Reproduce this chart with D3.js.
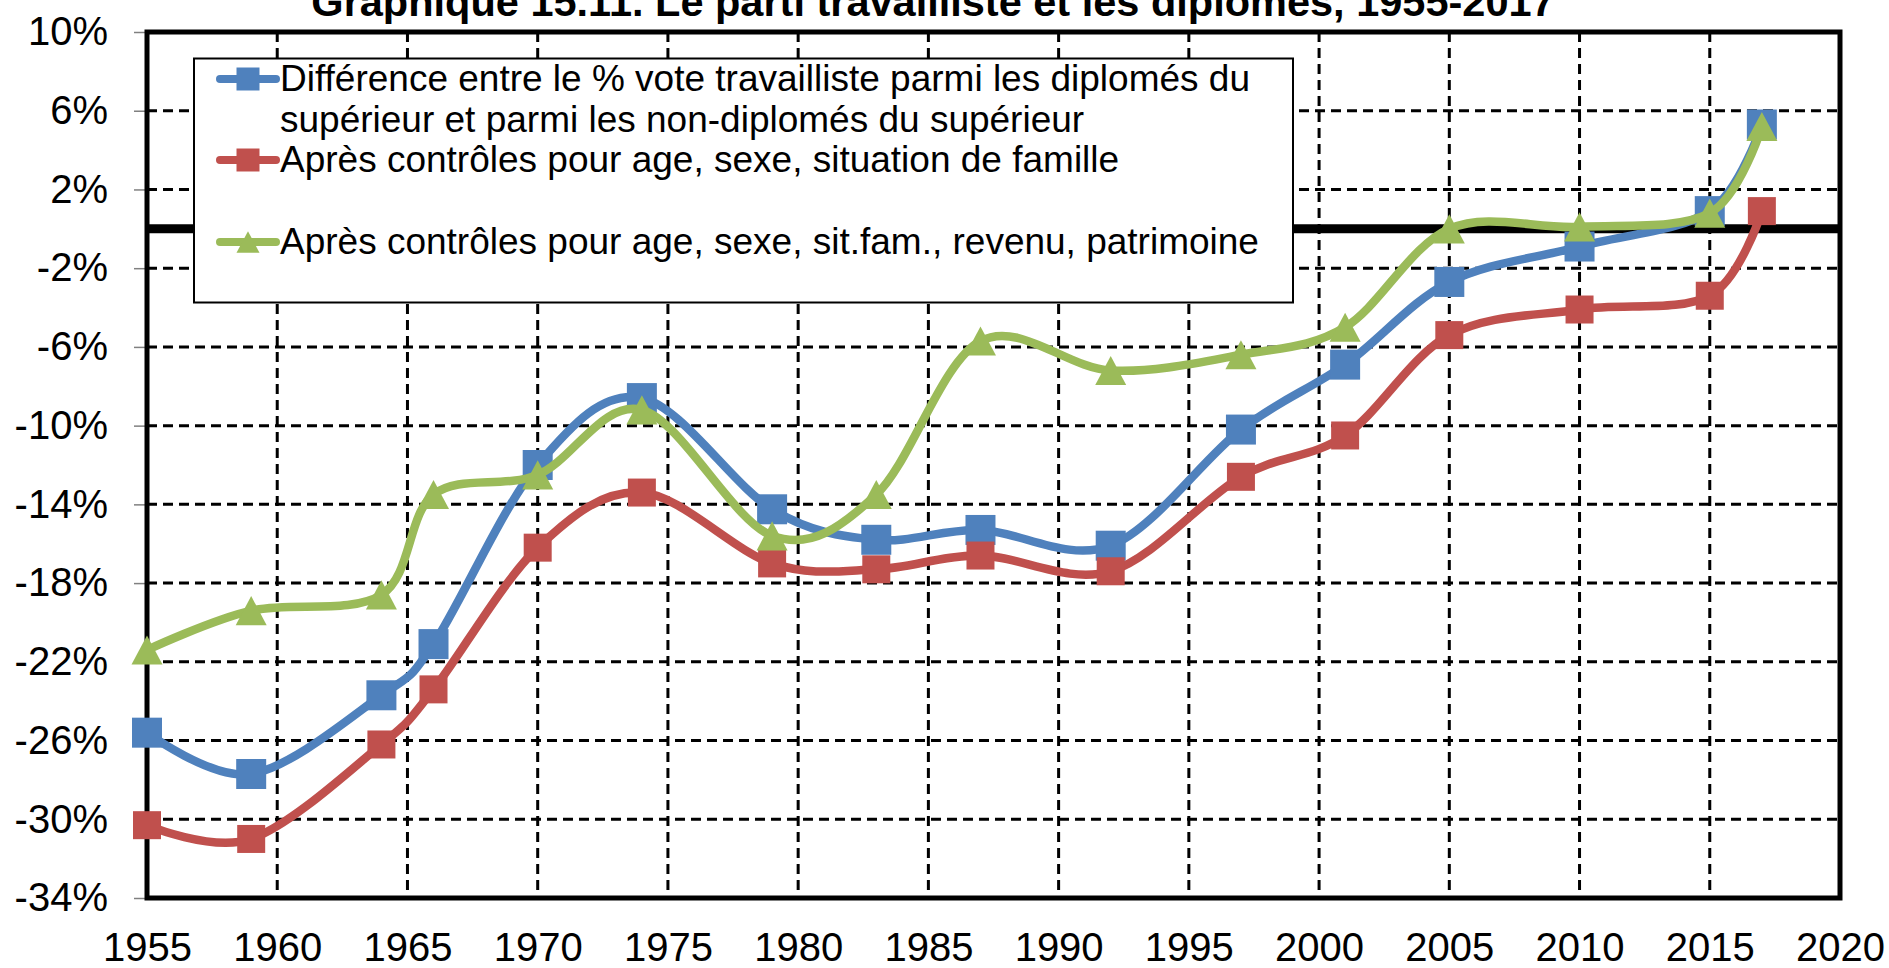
<!DOCTYPE html>
<html>
<head>
<meta charset="utf-8">
<script src="https://cdn.jsdelivr.net/npm/d3@7"></script>
<style>
  html, body { margin: 0; padding: 0; background: #fff; }
  svg { display: block; font-family: "Liberation Sans", Arial, sans-serif; }
</style>
</head>
<body>
<svg id="chart" width="1889" height="968"></svg>
<script>
// ---------------- DATA ----------------
const titleText = "Graphique 15.11. Le parti travailliste et les diplômés, 1955-2017";
const years = [1955, 1959, 1964, 1966, 1970, 1974, 1979, 1983, 1987, 1992, 1997, 2001, 2005, 2010, 2015, 2017];
const diffValues    = [-25.6, -27.7, -23.7, -21.1, -12.0, -8.6, -14.25, -15.8, -15.3, -16.1, -10.2, -6.9, -2.7, -0.9, 0.9, 5.3];
const ctrl1Values   = [-30.3, -31.0, -26.2, -23.4, -16.2, -13.4, -17.0, -17.3, -16.6, -17.4, -12.6, -10.5, -5.4, -4.1, -3.4, 0.9];
const ctrl2Values   = [-21.4, -19.4, -18.6, -13.5, -12.5, -9.2, -15.6, -13.5, -5.7, -7.2, -6.4, -5.0, 0.0, 0.1, 0.8, 5.2];
const seriesLabels = [
  ["Différence entre le % vote travailliste parmi les diplomés du", "supérieur et parmi les non-diplomés du supérieur"],
  ["Après contrôles pour age, sexe, situation de famille"],
  ["Après contrôles pour age, sexe, sit.fam., revenu, patrimoine"]
];
const xTickLabels = [1955, 1960, 1965, 1970, 1975, 1980, 1985, 1990, 1995, 2000, 2005, 2010, 2015, 2020];
const yTickLabels = [10, 6, 2, -2, -6, -10, -14, -18, -22, -26, -30, -34];

// ---------------- STYLES ----------------
const colors = ["#4F81BD", "#C0504D", "#9BBB59"];
const markerKinds = ["square", "square", "triangle"];
const markerSizes = [30, 28, 31];

const svg = d3.select("#chart");
const x = d3.scaleLinear().domain([1955, 2020]).range([147, 1840]);
const y = d3.scaleLinear().domain([-34, 10]).range([898, 32]);

// custom symbol types
const squareType = { draw(ctx, size) { const s = Math.sqrt(size) / 2; ctx.rect(-s, -s, 2 * s, 2 * s); } };
const triType = { draw(ctx, size) { const w = Math.sqrt(size); const h = w * 0.94; ctx.moveTo(0, -h / 2); ctx.lineTo(w / 2, h / 2); ctx.lineTo(-w / 2, h / 2); ctx.closePath(); } };
function symPath(kind, side) {
  return d3.symbol(kind === "triangle" ? triType : squareType, side * side)();
}

// Title (partly cut off at top like the reference)
svg.append("text")
  .attr("x", 933).attr("y", 16)
  .attr("text-anchor", "middle")
  .attr("font-size", 41.5).attr("font-weight", "bold")
  .text(titleText);

// Gridlines
const grid = svg.append("g");
grid.selectAll("line.v").data(xTickLabels.slice(1, -1)).join("line")
  .attr("x1", d => x(d)).attr("x2", d => x(d))
  .attr("y1", y(10)).attr("y2", y(-34))
  .attr("stroke", "#000").attr("stroke-width", 3).attr("stroke-dasharray", "10,6");
grid.selectAll("line.h").data(yTickLabels.slice(1, -1)).join("line")
  .attr("x1", x(1955)).attr("x2", x(2020))
  .attr("y1", d => y(d)).attr("y2", d => y(d))
  .attr("stroke", "#000").attr("stroke-width", 3).attr("stroke-dasharray", "10,6");

// Y axis
const yAxis = svg.append("g").attr("transform", `translate(${x(1955)},0)`)
  .call(d3.axisLeft(y).tickValues(yTickLabels).tickSize(13).tickPadding(26).tickFormat(d => d + "%"));
yAxis.select(".domain").remove();
yAxis.selectAll(".tick line").attr("stroke", "#808080").attr("stroke-width", 1.5);
yAxis.selectAll(".tick text").attr("font-size", 40).attr("fill", "#000")
  .attr("font-family", "'Liberation Sans', Arial, sans-serif");

// X axis
const xAxis = svg.append("g").attr("transform", `translate(0,${y(-34)})`)
  .call(d3.axisBottom(x).tickValues(xTickLabels).tickSize(0).tickPadding(35).tickFormat(d3.format("d")));
xAxis.select(".domain").remove();
xAxis.selectAll(".tick text").attr("font-size", 40).attr("fill", "#000")
  .attr("font-family", "'Liberation Sans', Arial, sans-serif");

// Plot border
svg.append("rect")
  .attr("x", x(1955)).attr("y", y(10))
  .attr("width", x(2020) - x(1955)).attr("height", y(-34) - y(10))
  .attr("fill", "none").attr("stroke", "#000").attr("stroke-width", 5);

// Zero line
svg.append("line")
  .attr("x1", x(1955)).attr("x2", x(2020))
  .attr("y1", y(0)).attr("y2", y(0))
  .attr("stroke", "#000").attr("stroke-width", 9);

// Series
const allSeries = [diffValues, ctrl1Values, ctrl2Values];
const line = d3.line().x(d => x(d.year)).y(d => y(d.v)).curve(d3.curveCardinal.tension(0));
allSeries.forEach((vals, i) => {
  const pts = years.map((yr, k) => ({ year: yr, v: vals[k] }));
  const g = svg.append("g");
  g.append("path").datum(pts).attr("d", line)
    .attr("fill", "none").attr("stroke", colors[i]).attr("stroke-width", 8.5)
    .attr("stroke-linejoin", "round").attr("stroke-linecap", "round");
  g.selectAll("path.m").data(pts).join("path")
    .attr("class", "m")
    .attr("d", symPath(markerKinds[i], markerSizes[i]))
    .attr("transform", d => `translate(${x(d.year)},${y(d.v)})`)
    .attr("fill", colors[i]);
});

// Legend
const lg = svg.append("g");
lg.append("rect").attr("x", 194).attr("y", 58.5).attr("width", 1099).attr("height", 244)
  .attr("fill", "#fff").attr("stroke", "#000").attr("stroke-width", 2);
const legendRowY = [79, 160, 242];
seriesLabels.forEach((lines, i) => {
  const cy = legendRowY[i];
  lg.append("line").attr("x1", 220).attr("x2", 276).attr("y1", cy).attr("y2", cy)
    .attr("stroke", colors[i]).attr("stroke-width", 8).attr("stroke-linecap", "round");
  lg.append("path").attr("d", symPath(markerKinds[i], 23))
    .attr("transform", `translate(248,${cy})`).attr("fill", colors[i]);
  const t = lg.append("text").attr("x", 280).attr("y", cy + 12).attr("font-size", 37).attr("fill", "#000");
  lines.forEach((ln, j) => {
    t.append("tspan").attr("x", 280).attr("dy", j === 0 ? 0 : 41).text(ln);
  });
});
</script>
</body>
</html>
